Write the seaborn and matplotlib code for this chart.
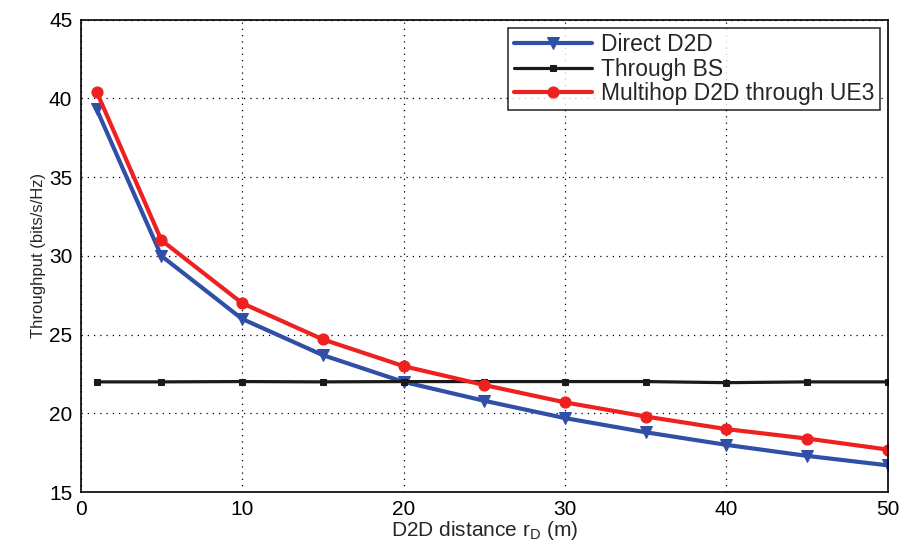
import matplotlib
matplotlib.use("Agg")
import matplotlib.pyplot as plt
import seaborn as sns
import pandas as pd

distance = [1, 5, 10, 15, 20, 25, 30, 35, 40, 45, 50]
direct_d2d = [39.3, 30.0, 26.0, 23.7, 22.0, 20.8, 19.7, 18.8, 18.0, 17.3, 16.7]
through_bs = [22.0, 22.0, 22.02, 22.0, 22.02, 22.02, 22.02, 22.02, 21.95, 22.0, 22.0]
multihop = [40.4, 31.0, 27.0, 24.7, 23.0, 21.8, 20.7, 19.8, 19.0, 18.4, 17.7]

labels = ["Direct D2D", "Through BS", "Multihop D2D through UE3"]
colors = ["#3050a8", "#1a1a1a", "#ee2020"]
markers = ["v", "s", "o"]

sns.set_style("white")
plt.rcParams['font.family'] = ['Liberation Sans', 'DejaVu Sans']

fig = plt.figure(figsize=(9.06, 5.48), dpi=100)
ax = fig.add_axes([0.089, 0.102, 0.891, 0.862])

df = pd.DataFrame({"d": distance, labels[0]: direct_d2d, labels[1]: through_bs, labels[2]: multihop})
long = df.melt(id_vars="d", var_name="series", value_name="thr")

specs = {labels[0]: dict(ms=9, lw=3), labels[1]: dict(ms=5, lw=2.3), labels[2]: dict(ms=8, lw=3)}
for lab, c, m in zip(labels, colors, markers):
    sub = long[long.series == lab]
    sns.lineplot(data=sub, x="d", y="thr", ax=ax, color=c, marker=m,
                 markersize=specs[lab]["ms"], linewidth=specs[lab]["lw"],
                 markeredgecolor=c, label=lab)

ax.set_xlim(0, 50)
ax.set_ylim(15, 45)
ax.set_xticks(range(0, 51, 10))
ax.set_yticks(range(15, 46, 5))
ax.grid(True, color="black", linestyle=(0, (1, 4)), linewidth=0.9)
for s in ax.spines.values():
    s.set_color("black")
    s.set_linewidth(1.2)
ax.tick_params(axis="both", direction="in", length=5, labelsize=15, colors="black", pad=6)
ax.set_xlabel("D2D distance r$_\\mathregular{D}$ (m)", fontsize=15, labelpad=0)
ax.set_ylabel("Throughput (bits/s/Hz)", fontsize=12, labelpad=2)

leg = ax.legend(loc="upper right", fontsize=16.5, frameon=True, fancybox=False,
                edgecolor="black", handlelength=3.4, borderaxespad=0.35,
                labelspacing=0.05, handletextpad=0.4, borderpad=0.25)
leg.get_frame().set_linewidth(1.2)

fig.savefig("out.png", dpi=100)
